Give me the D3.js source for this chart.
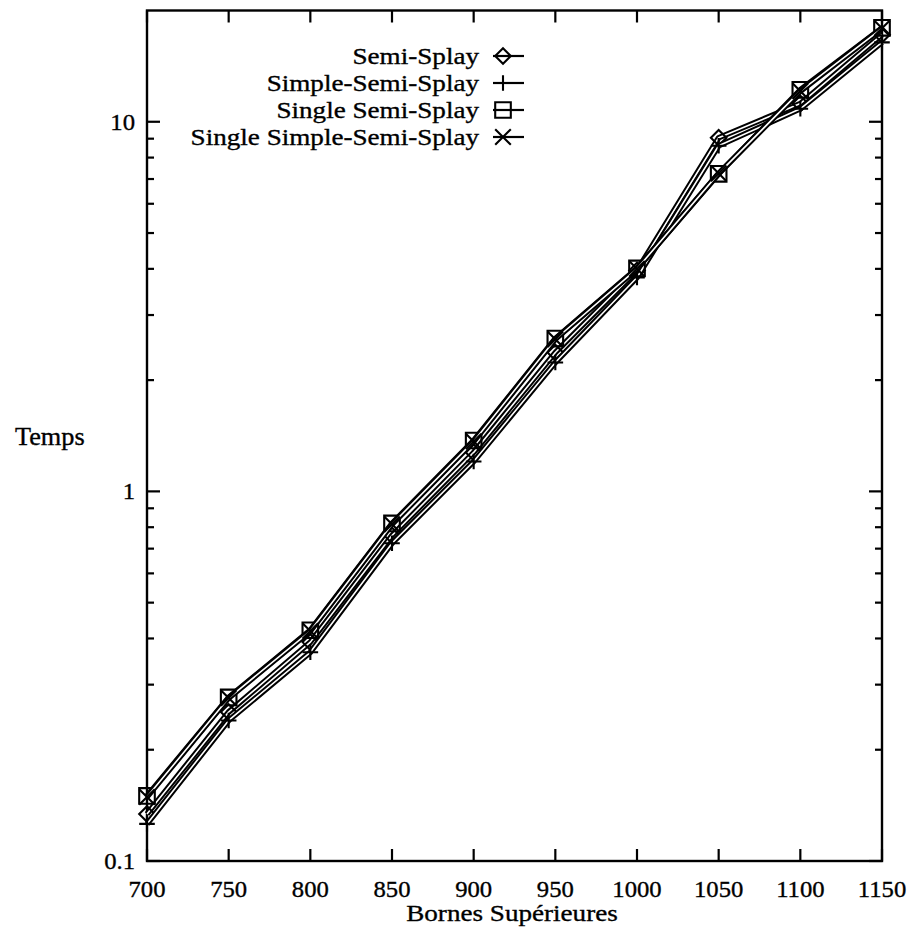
<!DOCTYPE html>
<html>
<head>
<meta charset="utf-8">
<script src="https://cdn.jsdelivr.net/npm/d3@7"></script>
<style>
  html, body { margin: 0; padding: 0; background: #fff; }
  svg { display: block; }
</style>
</head>
<body>
<svg id="chart" width="912" height="932"></svg>
<script>
// Upper bound of the test range
const bornes = [700, 750, 800, 850, 900, 950, 1000, 1050, 1100, 1150];

// Running time per variant
const semiSplay             = [0.134, 0.253, 0.391, 0.760, 1.275, 2.375, 3.96, 9.05, 11.2, 17.2];
const simpleSemiSplay       = [0.126, 0.240, 0.367, 0.724, 1.205, 2.232, 3.79, 8.61, 10.84, 16.4];
const singleSemiSplay       = [0.150, 0.277, 0.421, 0.819, 1.373, 2.590, 4.01, 7.23, 12.2, 17.95];
const singleSimpleSemiSplay = [0.149, 0.276, 0.419, 0.815, 1.365, 2.580, 4.00, 7.25, 12.1, 17.9];

const seriesNames = ["Semi-Splay", "Simple-Semi-Splay", "Single Semi-Splay", "Single Simple-Semi-Splay"];
const seriesValues = [semiSplay, simpleSemiSplay, singleSemiSplay, singleSimpleSemiSplay];
const seriesMarkers = ["diamond", "plus", "square", "cross"];

const xTicks = [700, 750, 800, 850, 900, 950, 1000, 1050, 1100, 1150];
const yTicks = [0.1, 1, 10];
const yTickLabels = ["0.1", "1", "10"];
const yMinorTicks = [0.2, 0.3, 0.4, 0.5, 0.6, 0.7, 0.8, 0.9, 2, 3, 4, 5, 6, 7, 8, 9];

const svg = d3.select("#chart");
const plotLeft = 147, plotRight = 882, plotTop = 10.5, plotBottom = 861;

const x = d3.scaleLinear().domain([700, 1150]).range([plotLeft, plotRight]);
const y = d3.scaleLog().domain([0.1, 20]).range([plotBottom, plotTop]);

// Text in a roman face, slightly stretched horizontally
function label(g, tx, ty, str, size, anchor, sx) {
  return g.append("text")
    .attr("transform", `translate(${tx},${ty}) scale(${sx},1)`)
    .attr("text-anchor", anchor)
    .attr("font-size", size)
    .attr("fill", "#000")
    .attr("stroke", "#000")
    .attr("stroke-width", 0.35)
    .style("font-family", '"Liberation Serif"')
    .text(str);
}

// Frame
svg.append("rect")
  .attr("x", plotLeft).attr("y", plotTop)
  .attr("width", plotRight - plotLeft).attr("height", plotBottom - plotTop)
  .attr("fill", "none").attr("stroke", "#000").attr("stroke-width", 2.4);

// Inward ticks on all four sides
const ticks = svg.append("g").attr("stroke", "#000").attr("stroke-width", 2.2);
xTicks.forEach(v => {
  ticks.append("line").attr("x1", x(v)).attr("x2", x(v)).attr("y1", plotBottom).attr("y2", plotBottom - 12);
  ticks.append("line").attr("x1", x(v)).attr("x2", x(v)).attr("y1", plotTop).attr("y2", plotTop + 12);
});
yTicks.forEach(v => {
  ticks.append("line").attr("x1", plotLeft).attr("x2", plotLeft + 13).attr("y1", y(v)).attr("y2", y(v));
  ticks.append("line").attr("x1", plotRight).attr("x2", plotRight - 13).attr("y1", y(v)).attr("y2", y(v));
});
yMinorTicks.forEach(v => {
  ticks.append("line").attr("x1", plotLeft).attr("x2", plotLeft + 7).attr("y1", y(v)).attr("y2", y(v));
  ticks.append("line").attr("x1", plotRight).attr("x2", plotRight - 7).attr("y1", y(v)).attr("y2", y(v));
});

// Tick labels
const tickLabels = svg.append("g");
xTicks.forEach(v => label(tickLabels, x(v), 897, String(v), 23.5, "middle", 1.05));
yTicks.forEach((v, i) => label(tickLabels, 135, y(v) + 8, yTickLabels[i], 23.5, "end", 1.05));

// Axis titles
label(svg, 512, 921, "Bornes Supérieures", 24, "middle", 1.13);
label(svg, 15, 445, "Temps", 25, "start", 1.05);

// Point symbols
function marker(g, kind, cx, cy) {
  const s = 7.8;
  const p = d3.path();
  if (kind === "diamond") {
    p.moveTo(cx, cy - s); p.lineTo(cx + s, cy); p.lineTo(cx, cy + s); p.lineTo(cx - s, cy); p.closePath();
  } else if (kind === "square") {
    p.rect(cx - s, cy - s, 2 * s, 2 * s);
  } else if (kind === "plus") {
    p.moveTo(cx - s, cy); p.lineTo(cx + s, cy); p.moveTo(cx, cy - s); p.lineTo(cx, cy + s);
  } else {
    p.moveTo(cx - s, cy - s); p.lineTo(cx + s, cy + s); p.moveTo(cx - s, cy + s); p.lineTo(cx + s, cy - s);
  }
  g.append("path").attr("d", p.toString())
    .attr("fill", "none").attr("stroke", "#000").attr("stroke-width", 2.1);
}

// Series: each line is drawn as a hollow stroke, then its points
const line = d3.line().x(d => x(d[0])).y(d => y(d[1]));
const plot = svg.append("g");
seriesValues.forEach((vals, i) => {
  const pts = bornes.map((b, j) => [b, vals[j]]);
  plot.append("path").attr("d", line(pts))
    .attr("fill", "none").attr("stroke", "#000").attr("stroke-width", 5.6)
    .attr("stroke-linejoin", "round");
  plot.append("path").attr("d", line(pts))
    .attr("fill", "none").attr("stroke", "#fff").attr("stroke-width", 1.6)
    .attr("stroke-linejoin", "round");
  pts.forEach(p => marker(plot, seriesMarkers[i], x(p[0]), y(p[1])));
});

// Legend
const legend = svg.append("g");
const legendY = [56, 83, 110, 137];
seriesNames.forEach((name, i) => {
  label(legend, 479, legendY[i] + 8, name, 24, "end", 1.13);
  legend.append("line").attr("x1", 493).attr("x2", 524)
    .attr("y1", legendY[i]).attr("y2", legendY[i])
    .attr("stroke", "#000").attr("stroke-width", 2.2);
  marker(legend, seriesMarkers[i], 503, legendY[i]);
});
</script>
</body>
</html>
